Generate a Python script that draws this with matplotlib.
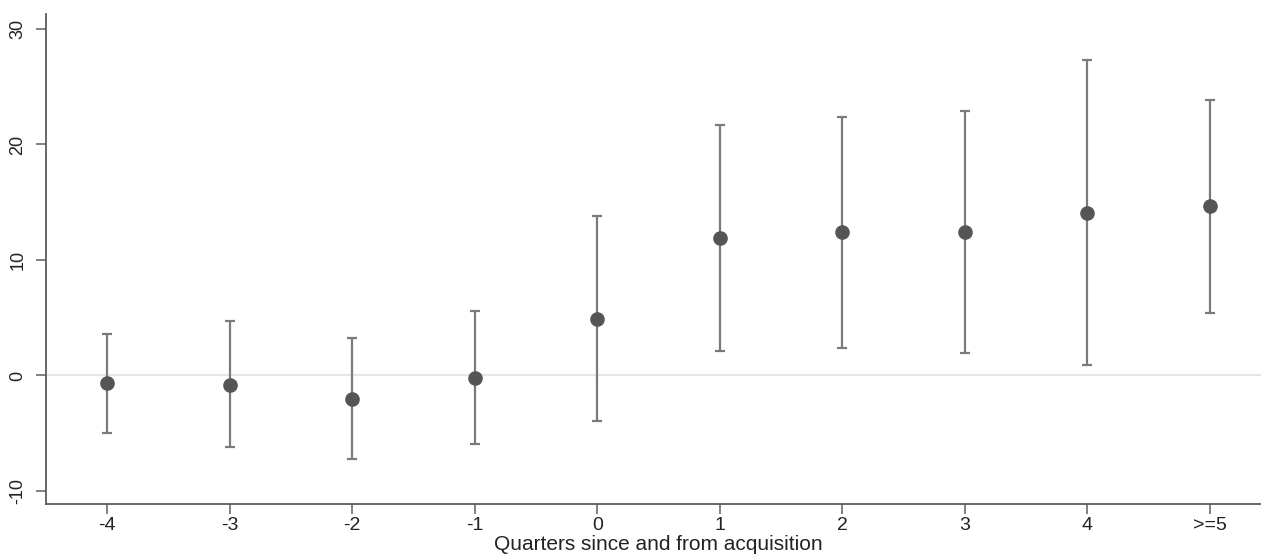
import numpy as np
import matplotlib.pyplot as plt

plt.rcParams['font.family'] = ['Liberation Sans', 'DejaVu Sans']

quarters = ['-4', '-3', '-2', '-1', '0', '1', '2', '3', '4', '>=5']
coef = [-0.65, -0.82, -2.03, -0.22, 4.89, 11.9, 12.4, 12.4, 14.07, 14.68]
ci_low = [-4.98, -6.19, -7.23, -5.93, -3.94, 2.12, 2.38, 1.95, 0.91, 5.41]
ci_high = [3.6, 4.72, 3.25, 5.58, 13.8, 21.7, 22.4, 22.9, 27.3, 23.85]

x = np.arange(len(quarters))
coef = np.array(coef)
err = [coef - np.array(ci_low), np.array(ci_high) - coef]

fig = plt.figure(figsize=(12.61, 5.58), dpi=100)
ax = fig.add_axes([46/1261, 54/558, (1271-46)/1261, 490/558])

ax.axhline(0, color='#e6e6e6', lw=1.5, zorder=0)
ax.errorbar(x, coef, yerr=err, fmt='none', ecolor='#7a7a7a', elinewidth=1.6,
            capsize=3.8, capthick=1.6, zorder=2)
ax.plot(x, coef, 'o', color='#555555', markersize=9.5, zorder=3)

ax.set_xlim(-0.5, 9.5)
ax.set_ylim(-11.13, 31.3)
ax.set_xticks(x)
ax.set_xticklabels(quarters)
ax.set_yticks([-10, 0, 10, 20, 30])
ax.set_yticklabels(['-10', '0', '10', '20', '30'], rotation=90, va='center')

for s in ['top', 'right']:
    ax.spines[s].set_visible(False)
for s in ['left', 'bottom']:
    ax.spines[s].set_color('#5a5a5a')
    ax.spines[s].set_linewidth(1.3)

ax.tick_params(axis='both', length=7, width=1.3, color='#777777',
               labelcolor='#222222')
ax.tick_params(axis='x', labelsize=14, pad=2)
ax.tick_params(axis='y', labelsize=13, pad=7)
ax.set_xlabel('Quarters since and from acquisition', fontsize=15,
              color='#222222', labelpad=1)

fig.savefig('out.png', dpi=100)
